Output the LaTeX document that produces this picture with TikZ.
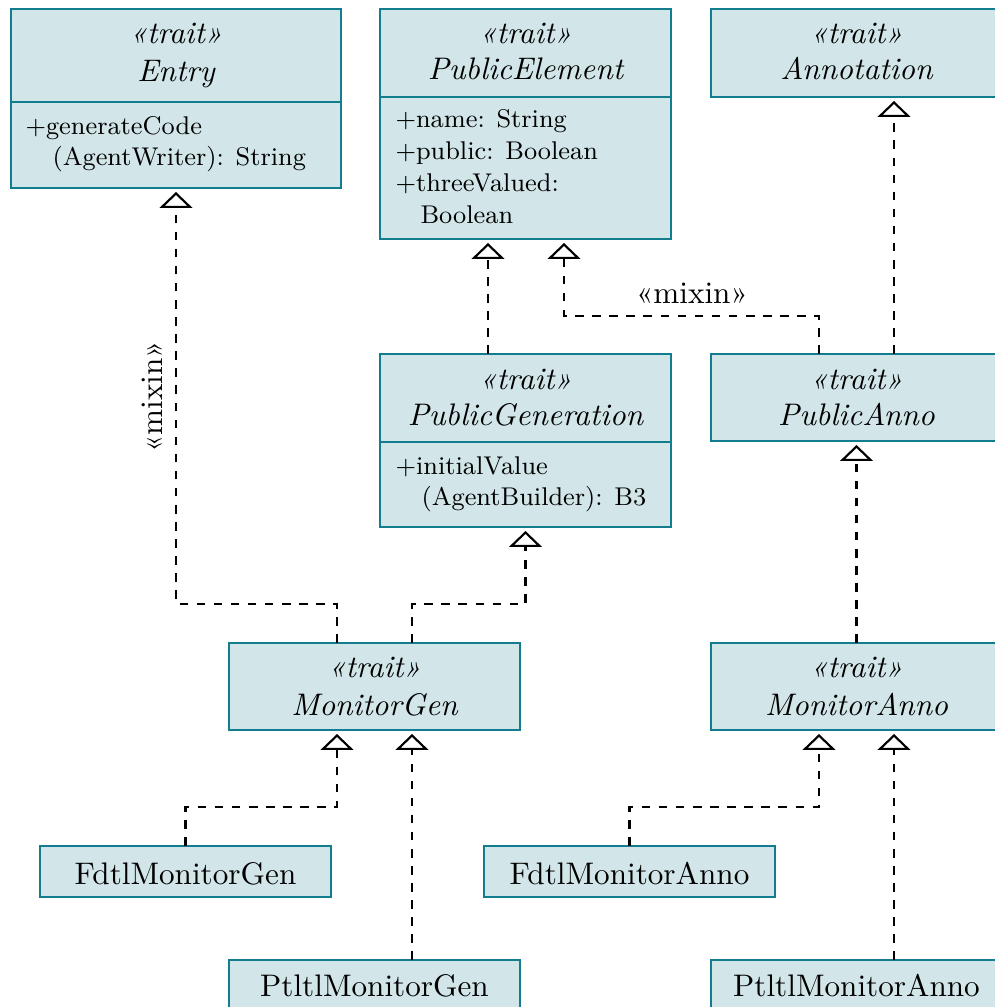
\documentclass[tikz,border=0pt]{standalone}
\usepackage{fontspec}
\usetikzlibrary{arrows.meta}
\definecolor{umlfill}{RGB}{210,230,233}
\definecolor{umlline}{RGB}{18,125,142}
\begin{document}
\begin{tikzpicture}[x=0.3512pt,y=-0.3512pt,
  umlbox/.style 2 args={draw=umlline, fill=umlfill, line width=0.75pt,
    inner sep=0pt, outer sep=0pt,
    minimum width=#1*0.3512pt, minimum height=#2*0.3512pt},
  stereo/.style={inner sep=0pt, anchor=base, font=\fontsize{10.95}{13.6}\selectfont\itshape},
  title/.style={inner sep=0pt, anchor=base, font=\fontsize{10.95}{13.6}\selectfont},
  attr/.style={inner sep=0pt, anchor=base west, font=\fontsize{9}{11}\selectfont},
  divider/.style={draw=umlline, line width=0.75pt},
  realize/.style={draw, dashed, line width=0.75pt,
    -{Triangle[open, length=5.6pt, width=11.5pt, line width=0.75pt]},
    shorten >=1.4pt},
  rolelabel/.style={inner sep=0pt, anchor=base, font=\fontsize{10.95}{13.6}\selectfont}]
\useasboundingbox (0,0) rectangle (995,1007);

% ---- class boxes ----
\node[umlbox={330}{179}] (entry) at (176,98.5) {};
\node[umlbox={291}{230}] (pubelem) at (525.5,124) {};
\node[umlbox={291}{88}] (annot) at (856.5,53) {};
\node[umlbox={291}{173}] (pubgen) at (525.5,440.5) {};
\node[umlbox={291}{87}] (pubanno) at (856.5,397.5) {};
\node[umlbox={291}{87}] (mongen) at (374.5,686.5) {};
\node[umlbox={291}{87}] (monanno) at (856.5,686.5) {};
\node[umlbox={291}{51}] (fdtlgen) at (185.5,871.5) {};
\node[umlbox={291}{51}] (fdtlanno) at (629.5,871.5) {};
\node[umlbox={291}{51}] (ptltlgen) at (374.5,985.5) {};
\node[umlbox={291}{51}] (ptltlanno) at (856.5,985.5) {};

% ---- compartment dividers ----
\draw[divider] (entry.west |- 0,102) -- (entry.east |- 0,102);
\draw[divider] (pubelem.west |- 0,97) -- (pubelem.east |- 0,97);
\draw[divider] (pubgen.west |- 0,442) -- (pubgen.east |- 0,442);

% ---- texts ----
\node[stereo] (entryS) at (176,44) {«trait»};
\node[stereo] (entryN) at (176,82) {Entry};
\node[attr] (entryA1) at (25,135) {+generateCode};
\node[attr] (entryA2) at (52,166) {(AgentWriter): String};

\node[stereo] (pubelemS) at (525.5,44) {«trait»};
\node[stereo] (pubelemN) at (525.5,80) {PublicElement};
\node[attr] (pubelemA1) at (395,128) {+name: String};
\node[attr] (pubelemA2) at (395,160) {+public: Boolean};
\node[attr] (pubelemA3) at (395,192) {+threeValued:};
\node[attr] (pubelemA4) at (420,224) {Boolean};

\node[stereo] (annotS) at (856.5,44) {«trait»};
\node[stereo] (annotN) at (856.5,80) {Annotation};

\node[stereo] (pubgenS) at (525.5,389) {«trait»};
\node[stereo] (pubgenN) at (525.5,425) {PublicGeneration};
\node[attr] (pubgenA1) at (395,474) {+initialValue};
\node[attr] (pubgenA2) at (421,505) {(AgentBuilder): B3};

\node[stereo] (pubannoS) at (856.5,389) {«trait»};
\node[stereo] (pubannoN) at (856.5,425) {PublicAnno};

\node[stereo] (mongenS) at (374.5,677) {«trait»};
\node[stereo] (mongenN) at (374.5,715) {MonitorGen};

\node[stereo] (monannoS) at (856.5,677) {«trait»};
\node[stereo] (monannoN) at (856.5,715) {MonitorAnno};

\node[title] (fdtlgenN) at (185.5,884) {FdtlMonitorGen};
\node[title] (fdtlannoN) at (629.5,884) {FdtlMonitorAnno};
\node[title] (ptltlgenN) at (374.5,996) {PtltlMonitorGen};
\node[title] (ptltlannoN) at (856.5,996) {PtltlMonitorAnno};

% ---- realization connectors ----
\draw[realize] ([xshift=-37.5*0.3512pt]mongen.north) -- ++(0,-39) -| (entry.south);
\draw[realize] ([xshift=37.5*0.3512pt]mongen.north) -- ++(0,-39) -| (pubgen.south);
\draw[realize] ([xshift=-37.5*0.3512pt]pubgen.north) -- ([xshift=-37.5*0.3512pt]pubelem.south);
\draw[realize] ([xshift=-37.5*0.3512pt]pubanno.north) -- ++(0,-38) -| ([xshift=38.5*0.3512pt]pubelem.south);
\draw[realize] ([xshift=37.5*0.3512pt]pubanno.north) -- ([xshift=37.5*0.3512pt]annot.south);
\draw[realize] (monanno.north) -- (pubanno.south);
\draw[realize] (fdtlgen.north) -- ++(0,-39) -| ([xshift=-37.5*0.3512pt]mongen.south);
\draw[realize] ([xshift=37.5*0.3512pt]ptltlgen.north) -- ([xshift=37.5*0.3512pt]mongen.south);
\draw[realize] (fdtlanno.north) -- ++(0,-39) -| ([xshift=-37.5*0.3512pt]monanno.south);
\draw[realize] ([xshift=37.5*0.3512pt]ptltlanno.north) -- ([xshift=37.5*0.3512pt]monanno.south);

% ---- mixin labels ----
\node[rolelabel, rotate=90] (mixinA) at (162,397) {«mixin»};
\node[rolelabel] (mixinB) at (692,304) {«mixin»};
\end{tikzpicture}
\end{document}
